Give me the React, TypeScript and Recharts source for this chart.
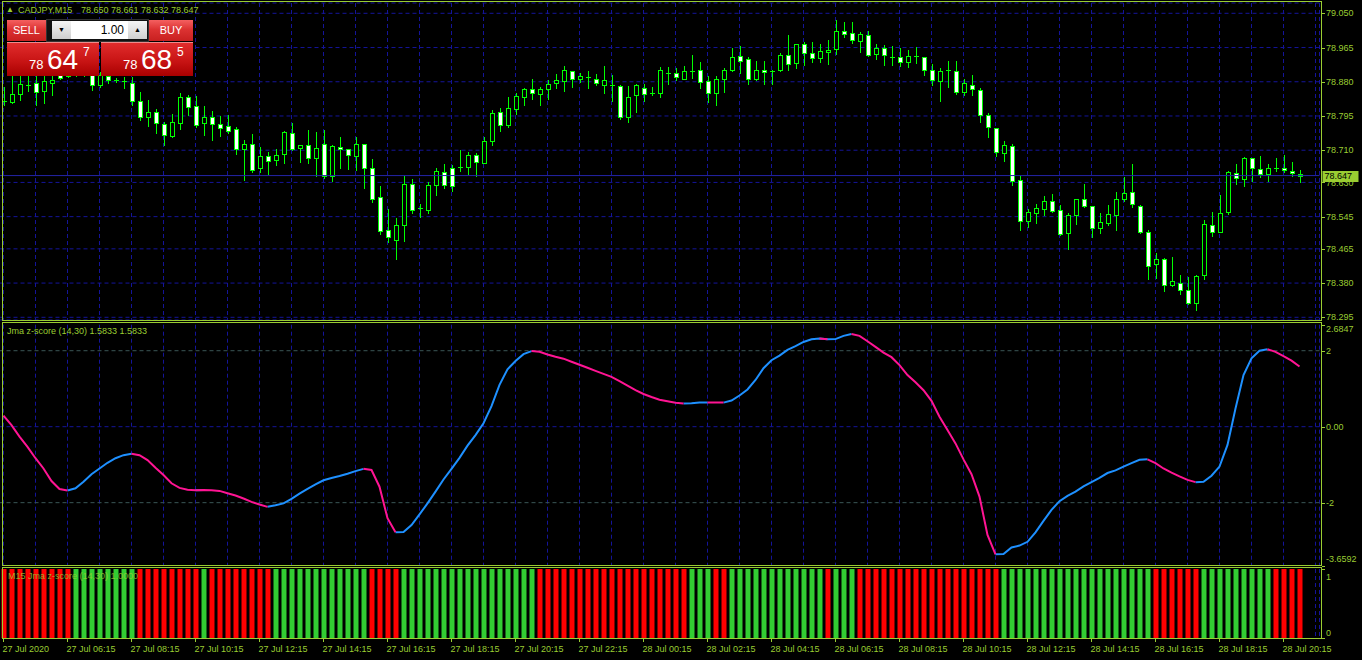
import { ComposedChart, Bar, Line, XAxis, YAxis, CartesianGrid, ReferenceLine, Cell } from "recharts"

const FONT = "'Liberation Sans', Arial, sans-serif"
const FG = "#9acd32"
const GRID = "#14149a"
const LEVEL = "#3a5656"

// CADJPY M15 candles, bar 0 = 27 Jul 04:15
const opens = [
  78.831, 78.830, 78.849, 78.872, 78.877, 78.858, 78.878, 78.909, 78.894, 78.919,
  78.902, 78.909, 78.872, 78.894, 78.885, 78.883, 78.878, 78.833, 78.792, 78.804,
  78.774, 78.746, 78.777, 78.841, 78.819, 78.777, 78.792, 78.774, 78.769, 78.762,
  78.712, 78.725, 78.665, 78.695, 78.685, 78.700, 78.752, 78.715, 78.722, 78.690,
  78.725, 78.645, 78.717, 78.712, 78.696, 78.725, 78.665, 78.593, 78.511, 78.486,
  78.523, 78.625, 78.566, 78.561, 78.623, 78.655, 78.667, 78.668, 78.669, 78.697,
  78.679, 78.734, 78.804, 78.772, 78.813, 78.843, 78.861, 78.850, 78.861, 78.876,
  78.881, 78.906, 78.888, 78.892, 78.888, 78.871, 78.872, 78.869, 78.792, 78.846,
  78.864, 78.853, 78.853, 78.900, 78.901, 78.888, 78.905, 78.908, 78.881, 78.851,
  78.888, 78.909, 78.943, 78.936, 78.886, 78.908, 78.907, 78.908, 78.946, 78.926,
  78.973, 78.951, 78.938, 78.953, 78.961, 79.007, 79.000, 78.982, 78.995, 78.948,
  78.963, 78.941, 78.941, 78.928, 78.943, 78.941, 78.908, 78.881, 78.907, 78.906,
  78.854, 78.871, 78.859, 78.797, 78.764, 78.702, 78.720, 78.635, 78.535, 78.553,
  78.565, 78.585, 78.561, 78.505, 78.548, 78.588, 78.571, 78.516, 78.528, 78.548,
  78.590, 78.605, 78.571, 78.506, 78.427, 78.441, 78.374, 78.381, 78.364, 78.330,
  78.399, 78.523, 78.508, 78.556, 78.653, 78.638, 78.690, 78.663, 78.650, 78.666,
  78.665, 78.658, 78.650,
]
const highs = [
  78.867, 78.897, 78.894, 78.894, 78.894, 78.899, 78.899, 78.919, 78.929, 78.931,
  78.924, 78.919, 78.904, 78.899, 78.889, 78.892, 78.892, 78.855, 78.835, 78.812,
  78.780, 78.800, 78.853, 78.847, 78.845, 78.820, 78.807, 78.795, 78.797, 78.767,
  78.735, 78.750, 78.719, 78.705, 78.712, 78.758, 78.777, 78.723, 78.760, 78.754,
  78.760, 78.722, 78.742, 78.713, 78.742, 78.726, 78.687, 78.621, 78.563, 78.541,
  78.646, 78.638, 78.576, 78.630, 78.666, 78.675, 78.673, 78.710, 78.705, 78.702,
  78.743, 78.810, 78.816, 78.841, 78.851, 78.864, 78.888, 78.866, 78.884, 78.899,
  78.919, 78.907, 78.901, 78.907, 78.899, 78.919, 78.897, 78.871, 78.869, 78.874,
  78.874, 78.866, 78.917, 78.917, 78.913, 78.919, 78.946, 78.929, 78.894, 78.894,
  78.913, 78.963, 78.969, 78.941, 78.931, 78.931, 78.908, 78.951, 78.996, 78.975,
  78.979, 78.978, 78.974, 78.983, 79.033, 79.028, 79.028, 79.003, 79.007, 78.975,
  78.971, 78.969, 78.963, 78.958, 78.966, 78.942, 78.923, 78.913, 78.931, 78.931,
  78.888, 78.896, 78.864, 78.802, 78.765, 78.732, 78.725, 78.647, 78.563, 78.576,
  78.596, 78.600, 78.573, 78.555, 78.589, 78.626, 78.572, 78.553, 78.573, 78.605,
  78.643, 78.675, 78.573, 78.513, 78.454, 78.442, 78.444, 78.399, 78.394, 78.399,
  78.536, 78.556, 78.598, 78.658, 78.676, 78.694, 78.691, 78.695, 78.676, 78.691,
  78.698, 78.681, 78.661,
]
const lows = [
  78.823, 78.827, 78.835, 78.857, 78.823, 78.827, 78.847, 78.887, 78.892, 78.894,
  78.894, 78.859, 78.867, 78.877, 78.879, 78.864, 78.823, 78.785, 78.770, 78.753,
  78.723, 78.744, 78.763, 78.797, 78.768, 78.748, 78.735, 78.745, 78.753, 78.700,
  78.636, 78.656, 78.656, 78.651, 78.673, 78.679, 78.710, 78.681, 78.679, 78.647,
  78.642, 78.634, 78.666, 78.664, 78.662, 78.617, 78.582, 78.503, 78.481, 78.441,
  78.485, 78.553, 78.543, 78.553, 78.599, 78.615, 78.609, 78.659, 78.651, 78.647,
  78.678, 78.724, 78.758, 78.767, 78.800, 78.822, 78.837, 78.822, 78.837, 78.865,
  78.858, 78.868, 78.880, 78.865, 78.872, 78.851, 78.832, 78.788, 78.781, 78.806,
  78.833, 78.846, 78.843, 78.874, 78.884, 78.887, 78.889, 78.865, 78.830, 78.822,
  78.855, 78.906, 78.901, 78.875, 78.884, 78.875, 78.875, 78.907, 78.909, 78.915,
  78.922, 78.930, 78.928, 78.924, 78.950, 78.992, 78.977, 78.955, 78.945, 78.937,
  78.922, 78.922, 78.920, 78.917, 78.927, 78.897, 78.873, 78.833, 78.868, 78.850,
  78.848, 78.848, 78.781, 78.743, 78.696, 78.684, 78.624, 78.513, 78.520, 78.528,
  78.550, 78.557, 78.499, 78.464, 78.527, 78.570, 78.495, 78.505, 78.525, 78.513,
  78.584, 78.569, 78.505, 78.389, 78.393, 78.361, 78.373, 78.354, 78.328, 78.313,
  78.391, 78.498, 78.506, 78.552, 78.627, 78.622, 78.634, 78.643, 78.634, 78.659,
  78.656, 78.645, 78.632,
]
const closes = [
  78.829, 78.849, 78.874, 78.871, 78.854, 78.882, 78.884, 78.889, 78.919, 78.904,
  78.914, 78.872, 78.897, 78.884, 78.884, 78.879, 78.832, 78.792, 78.804, 78.777,
  78.747, 78.779, 78.841, 78.818, 78.773, 78.792, 78.774, 78.764, 78.758, 78.712,
  78.725, 78.662, 78.695, 78.682, 78.697, 78.754, 78.712, 78.722, 78.690, 78.715,
  78.647, 78.720, 78.712, 78.697, 78.725, 78.665, 78.590, 78.510, 78.494, 78.523,
  78.625, 78.561, 78.565, 78.623, 78.658, 78.623, 78.622, 78.669, 78.697, 78.681,
  78.732, 78.802, 78.772, 78.814, 78.844, 78.861, 78.851, 78.861, 78.874, 78.884,
  78.908, 78.888, 78.894, 78.891, 78.876, 78.884, 78.871, 78.792, 78.841, 78.871,
  78.849, 78.852, 78.908, 78.901, 78.892, 78.906, 78.906, 78.879, 78.851, 78.888,
  78.908, 78.941, 78.932, 78.886, 78.908, 78.903, 78.907, 78.946, 78.923, 78.973,
  78.951, 78.938, 78.956, 78.958, 79.007, 78.998, 78.983, 78.998, 78.946, 78.963,
  78.946, 78.940, 78.928, 78.943, 78.942, 78.908, 78.884, 78.906, 78.908, 78.854,
  78.876, 78.861, 78.797, 78.767, 78.705, 78.722, 78.634, 78.533, 78.557, 78.566,
  78.585, 78.560, 78.503, 78.548, 78.588, 78.571, 78.518, 78.531, 78.551, 78.590,
  78.603, 78.576, 78.506, 78.422, 78.439, 78.374, 78.384, 78.364, 78.330, 78.397,
  78.526, 78.508, 78.553, 78.655, 78.640, 78.690, 78.665, 78.650, 78.667, 78.667,
  78.660, 78.653, 78.647,
]

// Jma z-score (14,30)
const zscore = [
  0.29, 0.04, -0.26, -0.53, -0.83, -1.10, -1.43, -1.64, -1.68, -1.62,
  -1.45, -1.25, -1.10, -0.95, -0.83, -0.75, -0.71, -0.75, -0.88, -1.08,
  -1.27, -1.49, -1.61, -1.66, -1.67, -1.665, -1.67, -1.69, -1.75, -1.81,
  -1.89, -1.98, -2.05, -2.11, -2.07, -2.02, -1.90, -1.76, -1.64, -1.52,
  -1.41, -1.35, -1.30, -1.24, -1.17, -1.11, -1.14, -1.58, -2.41, -2.78,
  -2.77, -2.59, -2.31, -2.02, -1.71, -1.39, -1.11, -0.82, -0.50, -0.22,
  0.09, 0.54, 1.10, 1.51, 1.73, 1.91, 1.99, 1.97, 1.90, 1.84,
  1.79, 1.71, 1.63, 1.55, 1.47, 1.39, 1.31, 1.20, 1.08, 0.96,
  0.86, 0.78, 0.71, 0.67, 0.63, 0.61, 0.62, 0.635, 0.64, 0.637,
  0.634, 0.69, 0.82, 0.98, 1.23, 1.54, 1.75, 1.87, 2.02, 2.12,
  2.23, 2.30, 2.32, 2.30, 2.305, 2.39, 2.44, 2.39, 2.25, 2.10,
  1.95, 1.83, 1.62, 1.36, 1.17, 0.96, 0.68, 0.26, -0.09, -0.44,
  -0.86, -1.25, -1.84, -2.85, -3.36, -3.35, -3.18, -3.13, -3.03, -2.78,
  -2.48, -2.19, -1.96, -1.82, -1.71, -1.57, -1.46, -1.35, -1.22, -1.15,
  -1.05, -0.96, -0.87, -0.86, -0.96, -1.10, -1.21, -1.31, -1.40, -1.46,
  -1.45, -1.29, -1.05, -0.48, 0.48, 1.36, 1.80, 2.00, 2.04, 1.97,
  1.86, 1.74, 1.5833,
]

// histogram state runs (U = green / rising, D = red / falling)
const trendRuns: [string, number][] = [
  ["D", 9], ["U", 8], ["D", 8], ["U", 1], ["D", 8], ["U", 12], ["D", 4], ["U", 17],
  ["D", 19], ["U", 3], ["D", 2], ["U", 12], ["D", 1], ["U", 3], ["D", 18], ["U", 19],
  ["D", 6], ["U", 9], ["D", 4],
]

const timeLabels = [
  "27 Jul 2020", "27 Jul 06:15", "27 Jul 08:15", "27 Jul 10:15", "27 Jul 12:15",
  "27 Jul 14:15", "27 Jul 16:15", "27 Jul 18:15", "27 Jul 20:15", "27 Jul 22:15",
  "28 Jul 00:15", "28 Jul 02:15", "28 Jul 04:15", "28 Jul 06:15", "28 Jul 08:15",
  "28 Jul 10:15", "28 Jul 12:15", "28 Jul 14:15", "28 Jul 16:15", "28 Jul 18:15",
  "28 Jul 20:15",
]
const priceTicks = [79.05, 78.965, 78.88, 78.795, 78.71, 78.63, 78.545, 78.465, 78.38, 78.295]
const zTicks = [2.6847, 2, 0, -2, -3.6592]
const histTicks = [1, 0]
const bid = 78.647
const priceDomain: [number, number] = [78.2883, 79.0756]
const zDomain: [number, number] = [-3.6592, 2.6847]
const SHIFT_BARS = 2

const trend = trendRuns.flatMap(([d, n]) => Array(n).fill(d) as string[])
const gridTicks = Array.from({ length: 42 }, (_, n) => n * 4)

const rows = Array.from({ length: opens.length + SHIFT_BARS }, (_, i) => {
  if (i >= opens.length) return { i }
  const upHere = i > 0 && trend[i] === "U"
  const downHere = i > 0 && trend[i] === "D"
  return {
    i,
    o: opens[i], h: highs[i], l: lows[i], c: closes[i],
    range: [lows[i], highs[i]],
    zUp: upHere || trend[i + 1] === "U" ? zscore[i] : null,
    zDown: downHere || trend[i + 1] === "D" ? zscore[i] : null,
    hist: 1,
    up: trend[i] === "U",
  }
})

function Candle(props: any) {
  const { x, y, width, height, payload } = props
  if (payload == null || payload.o == null) return null
  const { o, h, l, c } = payload
  const py = (p: number) => Math.round(y + ((h - p) / (h - l)) * height)
  const left = Math.round(x)
  const w = Math.round(width)
  const mid = left + Math.floor(w / 2)
  const top = py(Math.max(o, c))
  const bot = py(Math.min(o, c))
  const hi = py(h)
  const lo = py(l)
  const bull = c > o
  return (
    <g>
      <rect x={mid} y={hi} width={1} height={Math.max(1, lo - hi + 1)} fill="#00ff00" />
      {bot - top < 2 ? (
        <rect x={left} y={top} width={w} height={1} fill="#00ff00" />
      ) : (
        <>
          <rect x={left} y={top} width={w} height={bot - top + 1} fill="#00ff00" />
          <rect x={left + 1} y={top + 1} width={w - 2} height={bot - top - 1} fill={bull ? "#000" : "#fff"} />
        </>
      )}
    </g>
  )
}

function axisTick(fmt: (v: number) => string, shift: (v: number) => number) {
  return (props: any) => {
    const { x, y, payload } = props
    const v = payload.value as number
    const ly = Math.round(y) + 0.5
    return (
      <g>
        <line x1={x - 4} x2={x - 1} y1={ly} y2={ly} stroke={FG} />
        <text x={x} y={y + shift(v)} dy="0.35em" fill={FG} fontSize={9} fontFamily={FONT}>
          {fmt(v)}
        </text>
      </g>
    )
  }
}

const PriceTick = axisTick((v) => v.toFixed(3), () => 0)
const ZTick = axisTick(
  (v) => (v === 0 ? "0.00" : Number.isInteger(v) ? String(v) : v.toFixed(4)),
  (v) => (v === zDomain[1] ? 4.5 : v === zDomain[0] ? -6.5 : 0)
)
const HistTick = axisTick((v) => String(v), (v) => (v === 1 ? 8 : -5))

function TimeTick(props: any) {
  const { x, y, payload } = props
  const v = payload.value as number
  if (v % 8 !== 0) return null
  const label = timeLabels[v / 8]
  if (!label) return null
  return (
    <g>
      <line x1={x} x2={x} y1={y + 1} y2={y + 4} stroke={FG} />
      <text x={x - 1} y={y + 14} fill={FG} fontSize={9} fontFamily={FONT}>
        {label}
      </text>
    </g>
  )
}

function BidLabel(props: any) {
  const vb = props.viewBox
  if (!vb) return null
  const x = vb.x + vb.width + 3
  const y = Math.round(vb.y)
  return (
    <g>
      <rect x={x} y={y - 5} width={36} height={11} fill={FG} />
      <text x={x + 2} y={y} dy="0.35em" fill="#000" fontSize={9} fontFamily={FONT}>
        {bid.toFixed(3)}
      </text>
    </g>
  )
}

const abs = (s: React.CSSProperties): React.CSSProperties => ({ position: "absolute", ...s })
const redBtn = "linear-gradient(#f46060, #dc3232 45%, #c82020)"
const redBox = "linear-gradient(#e02c2c, #c81414 55%, #a80000)"
const grayBtn = "linear-gradient(#f4f4f4, #cfcfcf)"

function TradePanel() {
  const txt: React.CSSProperties = { color: "#fff", fontFamily: FONT, lineHeight: 1, whiteSpace: "nowrap" }
  const price = (left: number, big: string, pip: string) => (
    <div style={abs({ left, top: 42, width: 92, height: 34, background: redBox, borderTop: "1px solid #f08a8a", boxSizing: "border-box" })}>
      <span style={abs({ ...txt, left: 22, top: 15, fontSize: 13 })}>78</span>
      <span style={abs({ ...txt, left: 40, top: 3, fontSize: 28 })}>{big}</span>
      <span style={abs({ ...txt, left: 76, top: 3, fontSize: 12 })}>{pip}</span>
    </div>
  )
  return (
    <>
      <div style={abs({ left: 46, top: 19, width: 103, height: 23, background: "#111", border: "1px solid #333", boxSizing: "border-box" })} />
      <div style={abs({ left: 7, top: 20, width: 39, height: 21, background: redBtn, ...txt, fontSize: 11, lineHeight: "21px", textAlign: "center" })}>SELL</div>
      <div style={abs({ left: 52, top: 21, width: 19, height: 18, background: grayBtn, fontSize: 7, lineHeight: "18px", textAlign: "center", color: "#000" })}>▼</div>
      <div style={abs({ left: 71, top: 21, width: 57, height: 18, background: "#fff", fontFamily: FONT, fontSize: 12, lineHeight: "18px", textAlign: "right", paddingRight: 4, boxSizing: "border-box", color: "#000" })}>1.00</div>
      <div style={abs({ left: 128, top: 21, width: 19, height: 18, background: grayBtn, fontSize: 7, lineHeight: "18px", textAlign: "center", color: "#000" })}>▲</div>
      <div style={abs({ left: 149, top: 20, width: 44, height: 21, background: redBtn, ...txt, fontSize: 11, lineHeight: "21px", textAlign: "center" })}>BUY</div>
      {price(7, "64", "7")}
      {price(101, "68", "5")}
    </>
  )
}

export default function App() {
  const label: React.CSSProperties = { color: FG, fontFamily: FONT, fontSize: 9, lineHeight: "11px", whiteSpace: "nowrap" }
  const frame = (top: number, height: number) => (
    <div style={abs({ left: 2, top, width: 1320, height, border: `1px solid ${FG}`, boxSizing: "border-box", pointerEvents: "none" })} />
  )
  return (
    <div style={{ position: "fixed", left: 0, top: 0, width: 1362, height: 660, background: "#000", overflow: "hidden" }}>
      {/* price panel */}
      <div style={abs({ left: 0, top: 0 })}>
        <ComposedChart width={1362} height={660} data={rows} margin={{ top: 3, right: 0, bottom: 340, left: -0.5 }}>
          <CartesianGrid stroke={GRID} strokeDasharray="4 3" />
          <XAxis dataKey="i" type="category" hide ticks={gridTicks} interval={0} />
          <YAxis orientation="right" width={42.5} domain={priceDomain} allowDataOverflow ticks={priceTicks} interval={0}
            tickSize={0} tickMargin={6.5} axisLine={false} tickLine={false} tick={PriceTick} />
          <ReferenceLine y={bid} stroke="#2424a6" label={BidLabel} />
          <Bar dataKey="range" barSize={5} shape={Candle} isAnimationActive={false} />
        </ComposedChart>
      </div>

      {/* z-score panel */}
      <div style={abs({ left: 0, top: 0 })}>
        <ComposedChart width={1362} height={660} data={rows} margin={{ top: 324.7, right: 0, bottom: 94.3, left: -0.5 }}>
          <CartesianGrid stroke={GRID} strokeDasharray="4 3" horizontal={false} />
          <XAxis dataKey="i" type="category" scale="band" hide ticks={gridTicks} interval={0} />
          <YAxis orientation="right" width={42.5} domain={zDomain} allowDataOverflow ticks={zTicks} interval={0}
            tickSize={0} tickMargin={6.5} axisLine={false} tickLine={false} tick={ZTick} />
          <ReferenceLine y={2} stroke={LEVEL} strokeDasharray="4 3" />
          <ReferenceLine y={0} stroke={GRID} strokeDasharray="4 3" />
          <ReferenceLine y={-2} stroke={LEVEL} strokeDasharray="4 3" />
          <Line dataKey="zUp" type="linear" stroke="#1e90ff" strokeWidth={2} dot={false} activeDot={false} isAnimationActive={false} />
          <Line dataKey="zDown" type="linear" stroke="#ff1493" strokeWidth={2} dot={false} activeDot={false} isAnimationActive={false} />
        </ComposedChart>
      </div>

      {/* histogram panel */}
      <div style={abs({ left: 0, top: 0 })}>
        <ComposedChart width={1362} height={660} data={rows} margin={{ top: 569, right: 0, bottom: 0, left: -0.5 }}>
          <CartesianGrid stroke={GRID} strokeDasharray="4 3" horizontal={false} />
          <XAxis dataKey="i" type="category" height={22} ticks={gridTicks} interval={0} axisLine={false} tickLine={false}
            tickSize={0} tickMargin={0} tick={TimeTick} />
          <YAxis orientation="right" width={42.5} domain={[0, 1]} allowDataOverflow ticks={histTicks} interval={0}
            tickSize={0} tickMargin={6.5} axisLine={false} tickLine={false} tick={HistTick} />
          <Bar dataKey="hist" barSize={5} isAnimationActive={false}>
            {rows.map((r: any) => (
              <Cell key={r.i} fill={r.up ? "#32cd32" : "#ff0000"} />
            ))}
          </Bar>
        </ComposedChart>
      </div>

      {frame(1, 320)}
      {frame(322, 244)}
      {frame(567, 72)}

      <div style={abs({ ...label, left: 6, top: 4, fontSize: 8 })}>▲</div>
      <div style={abs({ ...label, left: 18, top: 5 })}>CADJPY,M15</div>
      <div style={abs({ ...label, left: 81, top: 5 })}>78.650 78.661 78.632 78.647</div>
      <div style={abs({ ...label, left: 7, top: 326 })}>Jma z-score (14,30) 1.5833 1.5833</div>
      <div style={abs({ ...label, left: 8, top: 571, opacity: 0.8 })}>M15 Jma z-score (14,30) 1.0000</div>

      <TradePanel />
    </div>
  )
}
